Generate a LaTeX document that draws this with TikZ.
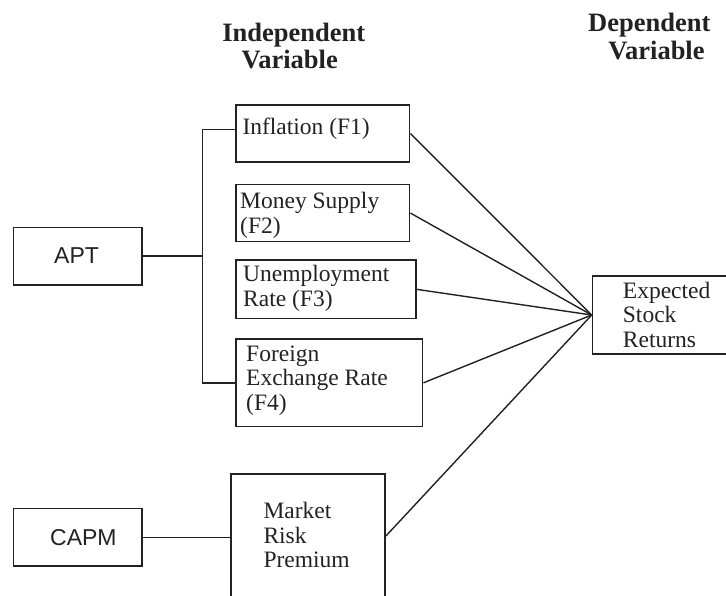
\documentclass[tikz,border=0pt]{standalone}
\usepackage{fontspec}
\setmainfont{Liberation Serif}
\newfontfamily\sansf{Liberation Sans}
\definecolor{ink}{HTML}{222222}
\tikzset{
  box/.style={draw=ink, line width=1.7pt, inner sep=0pt, anchor=north west},
  conn/.style={draw=ink, line width=1.4pt},
  lbl/.style={font=\fontsize{23.5}{24.4}\selectfont, text=ink, inner sep=0pt, anchor=base west, align=left},
  slbl/.style={font=\sansf\fontsize{23}{26}\selectfont, text=ink, inner sep=0pt, anchor=base west},
  head/.style={font=\bfseries\fontsize{26.5}{27}\selectfont, text=ink, inner sep=0pt, anchor=base},
}
\begin{document}
\begin{tikzpicture}[x=1pt,y=-1pt]
\useasboundingbox (0,0) rectangle (726,596);
\clip (0,0) rectangle (726,596);
% headings
\node[head] (hi1) at (293.7,41.7) {Independent};
\node[head] (hi2) at (289.7,68.5) {Variable};
\node[head] (hd1) at (649.3,31.7) {Dependent};
\node[head] (hd2) at (656.5,59.3) {Variable};
% boxes
\node[box, minimum width=128.3pt, minimum height=57.3pt] (apt) at (12.7,226.7) {};
\node[box, minimum width=128.3pt, minimum height=57.3pt] (capm) at (12.7,507.7) {};
\node[box, minimum width=173.7pt, minimum height=56.7pt] (infl) at (235,104.3) {};
\node[box, minimum width=173.7pt, minimum height=57pt] (money) at (235,183.7) {};
\node[box, minimum width=180pt, minimum height=58.4pt] (unemp) at (235,259.3) {};
\node[box, minimum width=186.7pt, minimum height=87.4pt] (forex) at (235,338.3) {};
\node[box, minimum width=154.3pt, minimum height=146.7pt] (market) at (230,473.3) {};
\node[box, minimum width=148.3pt, minimum height=78.3pt] (expect) at (591.7,275) {};
% texts (anchor base = baseline of the last line)
\node[slbl] (aptT) at (54,263.3) {APT};
\node[slbl] (capmT) at (50,545.7) {CAPM};
\node[lbl] (inflT) at (242.3,135) {Inflation (F1)};
\node[lbl] (moneyT) at (240,233.3) {Money Supply\\(F2)};
\node[lbl] (unempT) at (243,306) {Unemployment\\Rate (F3)};
\node[lbl] (forexT) at (246,410) {Foreign\\Exchange Rate\\(F4)};
\node[lbl] (expectT) at (622.7,347) {Expected\\Stock\\Returns};
\node[lbl] (marketT) at (263.3,567.7) {Market\\Risk\\Premium};
% connectors
\coordinate (bx) at (202.7,0);
\draw[conn] ([yshift=3.7pt]infl.west) -| (bx |- forex.west) -- (forex.west);
\draw[conn] (apt.east) -- (apt.east -| bx);
\draw[conn] (capm.east) -- (capm.east -| market.west);
\draw[conn] (infl.east) -- (expect.west);
\draw[conn] (money.east) -- (expect.west);
\draw[conn] (unemp.east) -- (expect.west);
\draw[conn] (forex.east) -- (expect.west);
\draw[conn] ([yshift=11.6pt]market.east) -- (expect.west);
\end{tikzpicture}
\end{document}
